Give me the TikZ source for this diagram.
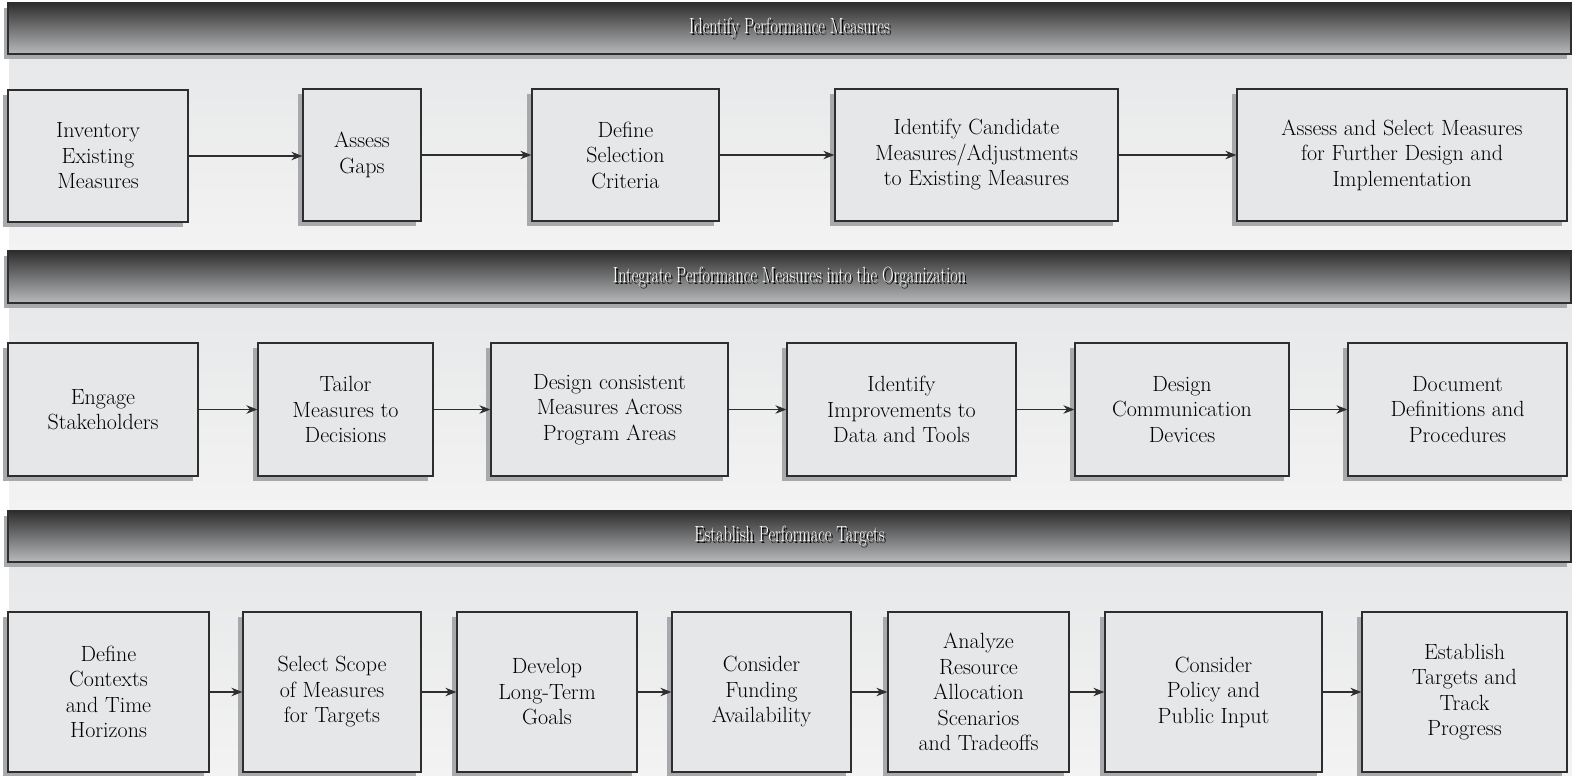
\documentclass[tikz,border=0pt]{standalone}
\usetikzlibrary{arrows.meta}
\definecolor{boxfill}{HTML}{E6E7E8}
\definecolor{boxline}{HTML}{2E2E2E}
\definecolor{shadowgray}{HTML}{A7A9AC}
\definecolor{hdtop}{HTML}{2E2E2E}
\definecolor{hdbot}{HTML}{B8B9BB}
\definecolor{pantop}{HTML}{E7E8E9}
\definecolor{panbot}{HTML}{F3F3F3}
\tikzset{
  stepbox/.style={draw=boxline, line width=1.3pt, fill=boxfill, align=center,
    inner sep=2pt, font=\fontsize{22}{25.5}\selectfont,
    preaction={fill=shadowgray, transform canvas={xshift=-5pt,yshift=-5pt}}},
  header/.style={draw=boxline, line width=1.2pt, top color=hdtop, bottom color=hdbot,
    inner sep=0pt,
    preaction={fill=shadowgray, transform canvas={xshift=-4pt,yshift=-5pt}}},
  panel/.style={top color=pantop, bottom color=panbot, draw=none, inner sep=0pt},
  titletext/.style={font=\fontsize{22}{24}\selectfont, xscale=0.735},
  flow/.style={draw=boxline, line width=1.3pt, -{Stealth[length=11pt,width=8.5pt]}},
}
\begin{document}
\begin{tikzpicture}[x=1pt,y=-1pt]
\useasboundingbox (0,0) rectangle (1572,776);
% panels
\node[panel, minimum width=1563pt, minimum height=197pt] (p1) at (790.5,152.5) {};
\node[panel, minimum width=1563pt, minimum height=208pt] (p2) at (790.5,407) {};
\node[panel, minimum width=1563pt, minimum height=214pt] (p3) at (790.5,669) {};
% headers
\node[header, minimum width=1563pt, minimum height=51pt] (h1) at (789.5,28.5) {};
\node[header, minimum width=1563pt, minimum height=52pt] (h2) at (789.5,277) {};
\node[header, minimum width=1563pt, minimum height=51pt] (h3) at (789.5,536.5) {};
\foreach \h/\t in {h1/Identify Performance Measures,
                   h2/Integrate Performance Measures into the Organization,
                   h3/Establish Performace Targets}{
  \node[titletext, text=black] (\h s) at ([xshift=1.6pt,yshift=-1.6pt]\h.center) {\t};
  \node[titletext, text=white] (\h t) at (\h.center) {\t};
}
% row 1
\node[stepbox, minimum width=180pt, minimum height=132pt] (a1) at (98,156) {Inventory\\Existing\\Measures};
\node[stepbox, minimum width=118pt, minimum height=132pt] (a2) at (362,155) {Assess\\Gaps};
\node[stepbox, minimum width=187pt, minimum height=132pt] (a3) at (625.5,155) {Define\\Selection\\Criteria};
\node[stepbox, minimum width=283pt, minimum height=132pt] (a4) at (976.5,155) {Identify Candidate\\Measures/Adjustments\\to Existing Measures};
\node[stepbox, minimum width=330pt, minimum height=132pt] (a5) at (1402,155) {Assess and Select Measures\\for Further Design and\\Implementation};
\draw[flow] (a1.east) -- (a1.east -| a2.west);
\draw[flow] (a2) -- (a3);
\draw[flow] (a3) -- (a4);
\draw[flow] (a4) -- (a5);
% row 2
\node[stepbox, minimum width=190pt, minimum height=133pt] (b1) at (103,409.5) {Engage\\Stakeholders};
\node[stepbox, minimum width=175pt, minimum height=133pt] (b2) at (345.5,409.5) {Tailor\\Measures to\\Decisions};
\node[stepbox, minimum width=237pt, minimum height=133pt] (b3) at (609.5,409.5) {Design consistent\\Measures Across\\Program Areas};
\node[stepbox, minimum width=229pt, minimum height=133pt] (b4) at (901.5,409.5) {Identify\\Improvements to\\Data and Tools};
\node[stepbox, minimum width=214pt, minimum height=133pt] (b5) at (1182,409.5) {Design\\Communication\\Devices};
\node[stepbox, minimum width=219pt, minimum height=133pt] (b6) at (1457.5,409.5) {Document\\Definitions and\\Procedures};
\draw[flow] (b1) -- (b2);
\draw[flow] (b2) -- (b3);
\draw[flow] (b3) -- (b4);
\draw[flow] (b4) -- (b5);
\draw[flow] (b5) -- (b6);
% row 3
\node[stepbox, minimum width=201pt, minimum height=160pt] (c1) at (108.5,692) {Define\\Contexts\\and Time\\Horizons};
\node[stepbox, minimum width=178pt, minimum height=160pt] (c2) at (332,692) {Select Scope\\of Measures\\for Targets};
\node[stepbox, minimum width=180pt, minimum height=160pt] (c3) at (547,692) {Develop\\Long-Term\\Goals};
\node[stepbox, minimum width=179pt, minimum height=160pt] (c4) at (761.5,692) {Consider\\Funding\\Availability};
\node[stepbox, minimum width=181pt, minimum height=160pt] (c5) at (978.5,692) {Analyze\\Resource\\Allocation\\Scenarios\\and Tradeoffs};
\node[stepbox, minimum width=217pt, minimum height=160pt] (c6) at (1213.5,692) {Consider\\Policy and\\Public Input};
\node[stepbox, minimum width=205pt, minimum height=160pt] (c7) at (1464.5,692) {Establish\\Targets and\\Track\\Progress};
\draw[flow] (c1) -- (c2);
\draw[flow] (c2) -- (c3);
\draw[flow] (c3) -- (c4);
\draw[flow] (c4) -- (c5);
\draw[flow] (c5) -- (c6);
\draw[flow] (c6) -- (c7);
\end{tikzpicture}
\end{document}
